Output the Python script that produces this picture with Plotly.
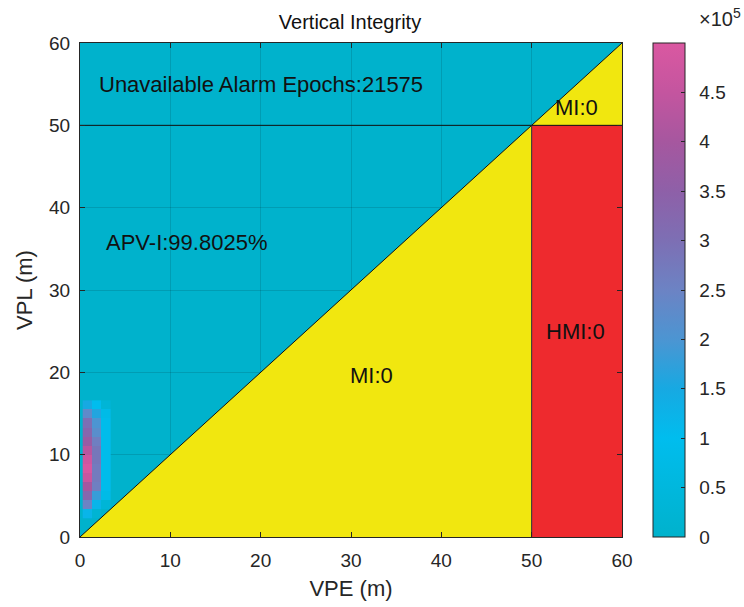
import plotly.graph_objects as go

# Stanford-style vertical integrity diagram: VPE vs VPL occupancy counts
vpe_edges = [0.3, 1.33, 2.36, 3.4]
vpl_edges = [2.3, 3.4, 4.5, 5.6, 6.7, 7.8, 8.9, 10.0, 11.1, 12.2, 13.3, 14.4, 15.5, 16.6]
# counts per cell, rows listed bottom (low VPL) to top; columns VPE bins
counts = [
    [1.2e5, 0.2e5, 0.0],
    [2.5e5, 1.2e5, 0.3e5],
    [3.3e5, 1.8e5, 0.8e5],
    [4.0e5, 2.6e5, 0.9e5],
    [4.6e5, 2.7e5, 0.9e5],
    [4.9e5, 2.7e5, 0.9e5],
    [4.7e5, 2.8e5, 0.9e5],
    [4.3e5, 2.8e5, 0.9e5],
    [3.7e5, 2.6e5, 0.9e5],
    [3.3e5, 2.2e5, 0.9e5],
    [3.0e5, 2.0e5, 0.9e5],
    [2.3e5, 1.6e5, 0.8e5],
    [1.5e5, 1.0e5, 0.3e5],
]
cbar_ticks = [0, 0.5e5, 1e5, 1.5e5, 2e5, 2.5e5, 3e5, 3.5e5, 4e5, 4.5e5]
cbar_labels = ["0", "0.5", "1", "1.5", "2", "2.5", "3", "3.5", "4", "4.5"]
axis_ticks = [0, 10, 20, 30, 40, 50, 60]
alert_limit = 50
axis_max = 60

base = "#00B2CC"
yellow = "#F1E70F"
red = "#EE2A2E"
font_family = "Liberation Sans, Arial, sans-serif"
text_color = "#262626"

colorscale = [
    [0.0, base],
    [0.2, "#00BDEE"],
    [0.3, "#17A9E2"],
    [0.4, "#4C95D2"],
    [0.5, "#6C83C4"],
    [0.6, "#7D6FB4"],
    [0.7, "#8E60A8"],
    [0.8, "#A6579F"],
    [0.9, "#C4559F"],
    [1.0, "#DA58A1"],
]

fig = go.Figure()

fig.add_trace(go.Heatmap(
    x=vpe_edges, y=vpl_edges, z=counts,
    colorscale=colorscale, zmin=0, zmax=5.0e5,
    hoverinfo="skip",
    colorbar=dict(
        x=653 / 744, xanchor="left", xref="container", xpad=0,
        y=0.5, yanchor="middle", len=1.0, lenmode="fraction", ypad=0,
        thickness=32, thicknessmode="pixels",
        outlinecolor="#262626", outlinewidth=1,
        ticks="inside", ticklen=4, tickcolor="#262626",
        tickvals=cbar_ticks,
        ticktext=["\u2002" + t for t in cbar_labels],
        tickfont=dict(family=font_family, size=19, color=text_color),
    ),
))

# MI region below the diagonal, under the alert limit
fig.add_trace(go.Scatter(
    x=[0, alert_limit, alert_limit, 0], y=[0, 0, alert_limit, 0],
    fill="toself", fillcolor=yellow, mode="lines",
    line=dict(color="rgba(0,0,0,0)", width=0), hoverinfo="skip", showlegend=False,
))
# MI region below the diagonal, above the alert limit
fig.add_trace(go.Scatter(
    x=[alert_limit, axis_max, axis_max, alert_limit],
    y=[alert_limit, axis_max, alert_limit, alert_limit],
    fill="toself", fillcolor=yellow, mode="lines",
    line=dict(color="rgba(0,0,0,0)", width=0), hoverinfo="skip", showlegend=False,
))
# HMI region
fig.add_trace(go.Scatter(
    x=[alert_limit, axis_max, axis_max, alert_limit, alert_limit],
    y=[0, 0, alert_limit, alert_limit, 0],
    fill="toself", fillcolor=red, mode="lines",
    line=dict(color="rgba(0,0,0,0)", width=0), hoverinfo="skip", showlegend=False,
))
# boundary lines
fig.add_trace(go.Scatter(x=[0, axis_max], y=[0, axis_max], mode="lines",
                         line=dict(color="#111111", width=1), hoverinfo="skip", showlegend=False))
fig.add_trace(go.Scatter(x=[0, axis_max], y=[alert_limit, alert_limit], mode="lines",
                         line=dict(color="#111111", width=1), hoverinfo="skip", showlegend=False))
fig.add_trace(go.Scatter(x=[alert_limit, alert_limit], y=[0, alert_limit], mode="lines",
                         line=dict(color="#333333", width=1), hoverinfo="skip", showlegend=False))

labels = [
    (1.9, 54.9, "Unavailable Alarm Epochs:21575", "left"),
    (55.0, 52.2, "MI:0", "center"),
    (2.7, 35.8, "APV-I:99.8025%", "left"),
    (54.8, 24.9, "HMI:0", "center"),
    (32.3, 19.6, "MI:0", "center"),
]
for lx, ly, txt, anchor in labels:
    fig.add_annotation(x=lx, y=ly, text=txt, xref="x", yref="y", showarrow=False,
                       xanchor=anchor, yanchor="middle",
                       font=dict(family=font_family, size=22, color="#111111"))

# colorbar exponent label
fig.add_annotation(x=(697 - 80) / 542, y=(537 - 18) / 494, xref="paper", yref="paper",
                   text="×10<sup>5</sup>", showarrow=False, xanchor="left", yanchor="middle",
                   font=dict(family=font_family, size=20, color=text_color))

axis_common = dict(
    range=[0, axis_max], tickvals=axis_ticks,
    showgrid=True, gridcolor="rgba(0,0,0,0.12)", gridwidth=1,
    zeroline=False, showline=True, linecolor="#262626", linewidth=1, mirror="ticks",
    ticks="inside", ticklen=5, tickcolor="#262626",
    tickfont=dict(family=font_family, size=19, color=text_color),
)

fig.update_layout(
    width=744, height=607,
    margin=dict(l=80, r=122, t=43, b=70),
    paper_bgcolor="white", plot_bgcolor=base,
    title=dict(text="Vertical Integrity", x=350 / 744, xanchor="center",
               y=1 - 22 / 607, yanchor="middle",
               font=dict(family=font_family, size=20, color="#111111")),
    xaxis=dict(**axis_common, ticklabelstandoff=6,
               title=dict(text="VPE (m)", standoff=10,
                          font=dict(family=font_family, size=22, color=text_color))),
    yaxis=dict(**axis_common, ticklabelstandoff=5,
               title=dict(text="VPL (m)", standoff=10,
                          font=dict(family=font_family, size=22, color=text_color))),
    showlegend=False,
)

fig.write_html("out.html")
